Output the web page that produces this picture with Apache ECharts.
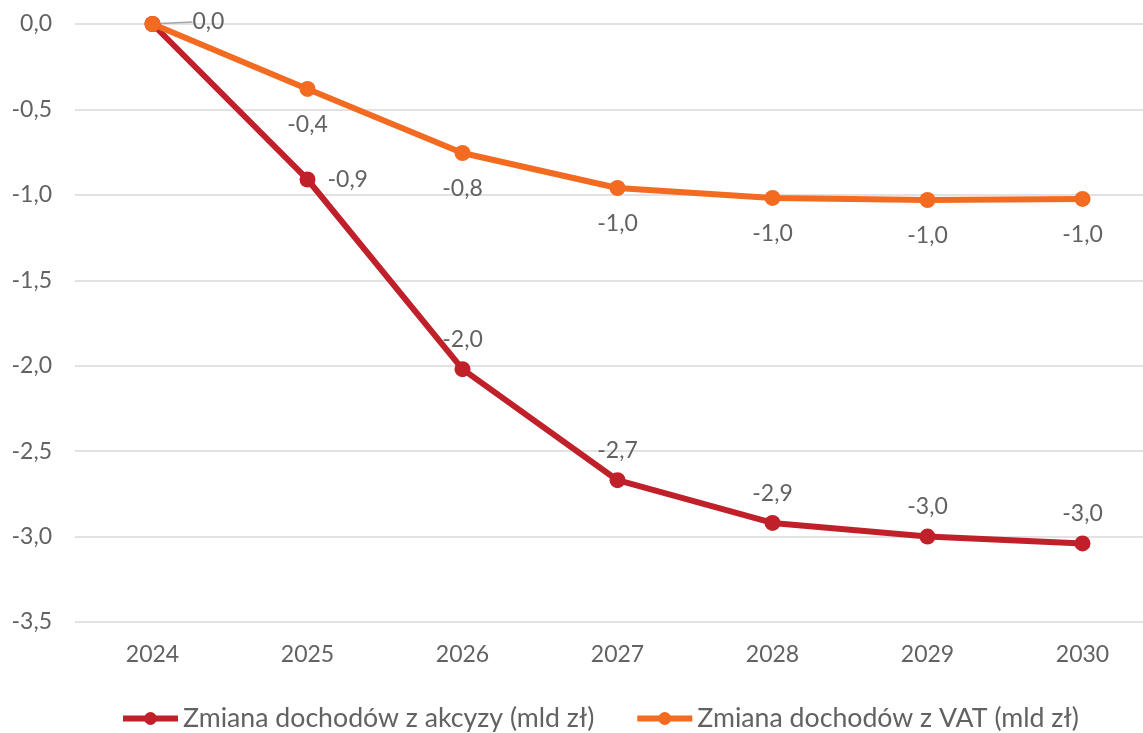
<!DOCTYPE html>
<html>
<head>
<meta charset="utf-8">
<script src="https://cdn.jsdelivr.net/npm/echarts@6/dist/echarts.min.js"></script>
<style>
  html, body { margin: 0; padding: 0; background: #fff; }
  #chart { width: 1143px; height: 733px; }
</style>
</head>
<body>
<div id="chart"></div>
<script>
// lata
const years = ['2024', '2025', '2026', '2027', '2028', '2029', '2030'];
// zmiana dochodów (mld zł)
const akcyza = [0, -0.91, -2.02, -2.67, -2.92, -3.00, -3.04];
const vat = [0, -0.38, -0.755, -0.96, -1.018, -1.03, -1.024];
const seriesNames = ['Zmiana dochodów z akcyzy (mld zł)', 'Zmiana dochodów z VAT (mld zł)'];

const fmt = v => v.toFixed(1).replace('.', ',');
const textColor = '#626262';
const font = 'Lato';

const chart = echarts.init(document.getElementById('chart'));

const option = {
  animation: false,
  textStyle: { fontFamily: font },
  // plot runs past the right edge, like in the source picture
  grid: { left: 75, right: -17, top: 24, bottom: 111, outerBoundsMode: 'none' },
  legend: {
    top: 700,
    left: 115,
    itemWidth: 55,
    itemHeight: 16,
    itemGap: 40,
    lineStyle: { width: 6 },
    textStyle: { fontFamily: font, fontSize: 26.7, color: textColor },
    data: seriesNames
  },
  xAxis: {
    type: 'category',
    data: years,
    axisLine: { show: false },
    axisTick: { show: false },
    axisLabel: { color: textColor, fontSize: 23, margin: 21, fontFamily: font }
  },
  yAxis: {
    type: 'value',
    min: -3.5,
    max: 0,
    interval: 0.5,
    axisLine: { show: false },
    axisTick: { show: false },
    splitLine: { lineStyle: { color: '#d9d9d9', width: 1.5 } },
    axisLabel: {
      color: textColor, fontSize: 23, margin: 23, fontFamily: font,
      formatter: v => fmt(v)
    }
  },
  series: [
    {
      name: seriesNames[0],
      type: 'line',
      data: akcyza.map((v, i) => {
        if (i === 0) return { value: v, label: { show: false } };
        if (i === 1) return { value: v, label: { position: 'right', distance: 12 } };
        return v;
      }),
      symbol: 'circle',
      symbolSize: 16,
      lineStyle: { color: '#c0202a', width: 6 },
      itemStyle: { color: '#c0202a' },
      label: {
        show: true,
        position: 'top',
        distance: 10,
        color: textColor,
        fontSize: 23,
        fontFamily: font,
        formatter: p => fmt(p.value)
      }
    },
    {
      name: seriesNames[1],
      type: 'line',
      data: vat.map((v, i) => {
        if (i === 0) {
          return {
            value: v,
            label: { position: 'right', distance: 8 },
            labelLine: { show: true, lineStyle: { color: '#a6a6a6', width: 1.5 } }
          };
        }
        return v;
      }),
      symbol: 'circle',
      symbolSize: 16,
      lineStyle: { color: '#f26b21', width: 6 },
      itemStyle: { color: '#f26b21' },
      label: {
        show: true,
        position: 'bottom',
        distance: 16,
        color: textColor,
        fontSize: 23,
        fontFamily: font,
        formatter: p => fmt(p.value)
      },
      labelLine: { show: false },
      labelLayout: p => (p.dataIndex === 0 ? { dx: 24, dy: -2 } : {})
    }
  ]
};
option && chart.setOption(option);
</script>
</body>
</html>
